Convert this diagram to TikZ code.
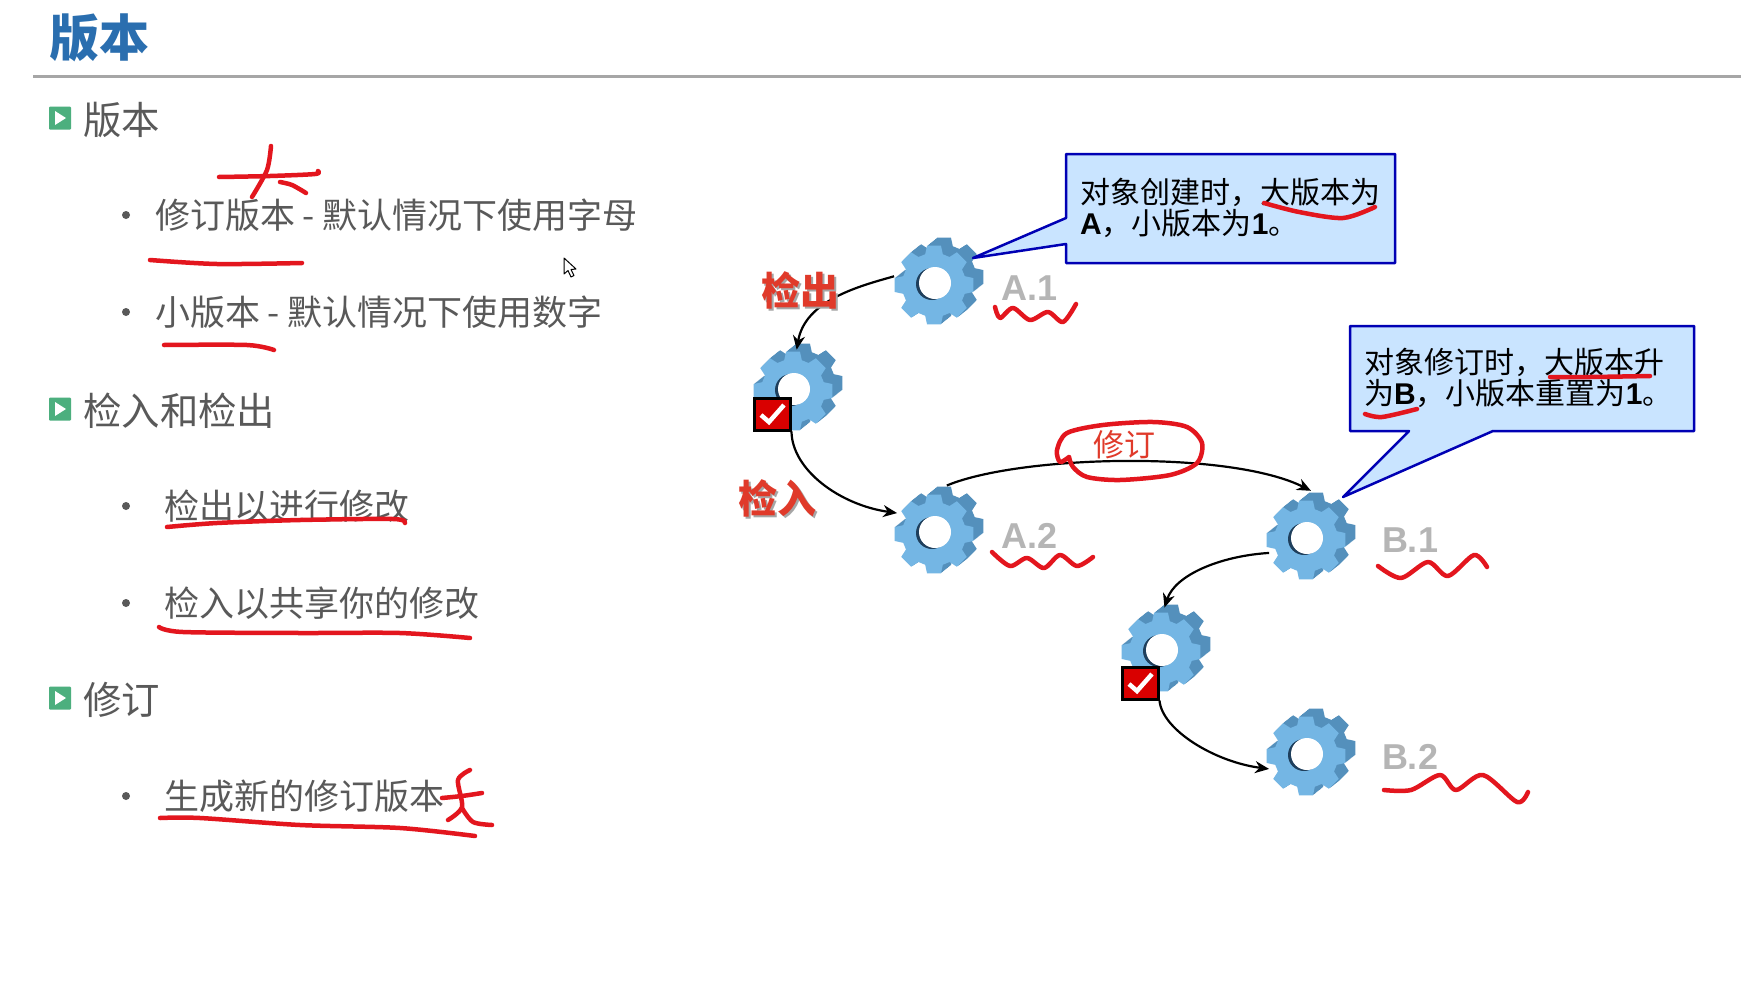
\documentclass[tikz,border=0pt]{standalone}
\usepackage{fontspec}
\setmainfont{Noto Sans CJK SC}
\setsansfont{Liberation Sans}
\definecolor{titleblue}{HTML}{2A6EAF}
\definecolor{textgray}{HTML}{595959}
\definecolor{rulegray}{HTML}{A6A6A6}
\definecolor{bulletgreen}{HTML}{4CAF7E}
\definecolor{gearface}{HTML}{74B6E4}
\definecolor{gearside}{HTML}{5490BC}
\definecolor{gearhole}{HTML}{1F3F5C}
\definecolor{calloutfill}{HTML}{C9E4FF}
\definecolor{calloutline}{HTML}{0000B4}
\definecolor{penred}{HTML}{E3161E}
\definecolor{labelred}{HTML}{E03A2A}
\usetikzlibrary{arrows.meta}
\newcommand{\gearshape}{(-16:32) \foreach \a in {0,45,...,315}{ -- (\a-16:32) -- (\a-10:40) -- (\a+10:40) -- (\a+16:32) } -- cycle}
\newcommand{\dashgap}{\hspace{7.5pt}-\hspace{7.5pt}}
\tikzset{
  heading/.style={anchor=west, text=textgray, font=\fontsize{38.4}{40}\selectfont},
  item/.style={anchor=west, text=textgray, font=\fontsize{35}{38}\selectfont},
  itemdot/.style={circle, fill=textgray, minimum size=8pt, inner sep=0pt},
  greenbox/.style={fill=bulletgreen, minimum width=22pt, minimum height=23pt, inner sep=0pt, rounded corners=1pt},
  gearnode/.style={circle, minimum size=90pt, inner sep=0pt},
  checkbox/.style={fill=red!85!black, draw=black, line width=3pt, minimum width=36pt, minimum height=32pt, inner sep=0pt},
  checkmark/.style={white, line width=4.5pt},
  version/.style={anchor=center, text=black!29, font=\sffamily\bfseries\fontsize{36}{36}\selectfont},
  callout/.style={fill=calloutfill, draw=calloutline, line width=2.5pt, line join=round},
  callouttext/.style={anchor=north west, align=left, inner sep=0pt, text=black, font=\fontsize{30}{31}\selectfont},
  flow/.style={draw=black, line width=2.2pt, -{Stealth[length=14pt,width=12pt]}},
  redmark/.style={draw=penred, line width=4.5pt, line cap=round, line join=round},
  redlabel/.style={anchor=center, text=labelred, font=\bfseries\fontsize{39}{40}\selectfont},
  redshadow/.style={anchor=center, text=black!35, font=\bfseries\fontsize{39}{40}\selectfont}
}
\begin{document}
\begin{tikzpicture}[x=1pt, y=-1pt]
  \useasboundingbox (0,0) rectangle (1741,988);
  \fill[white] (0,0) rectangle (1741,988);

  % title
  \node[anchor=west, inner sep=0pt, text=titleblue, font=\bfseries\fontsize{50}{50}\selectfont] (title) at (49,38) {版本};
  \draw[rulegray, line width=3pt] (33,76.5) -- (1741,76.5);

  % left column
  \foreach \name/\y/\txt in {h1/120/版本, h2/411/检入和检出, h3/700/修订} {
    \node[greenbox] (\name box) at (60,\y-2) {};
    \fill[white] ([shift={(-5,-7)}]\name box.center) -- ([shift={(6,0)}]\name box.center) -- ([shift={(-5,7)}]\name box.center) -- cycle;
    \node[heading, inner sep=0pt] (\name) at (83,\y) {\txt};
  }
  \foreach \name/\x/\y/\txt in {
    i1/155/215/修订版本\dashgap 默认情况下使用字母,
    i2/155/312/小版本\dashgap 默认情况下使用数字,
    i3/164/506/检出以进行修改,
    i4/164/603/检入以共享你的修改,
    i5/164/796/生成新的修订版本} {
    \node[itemdot] (\name dot) at (126,\y) {};
    \node[item, inner sep=0pt] (\name) at (\x,\y) {\txt};
  }

  % mouse pointer
  \draw[black, fill=white, line width=1pt, line join=round] (564,258) -- (564,274) -- (568,270.5) -- (571,277) -- (574,275.5) -- (571,269.5) -- (576,269) -- cycle;

  % gears
  \foreach \name/\x/\y in {a1/939/281, c1/798/387, a2/939/530, b1/1311/536, c2/1166/648, b2/1311/752} {
    \node[gearnode] (\name) at (\x,\y) {};
    \begin{scope}[shift={(\x,\y)}]
      \foreach \s in {10,9,...,1} {
        \fill[gearside, shift={(-5+\s,4-0.8*\s)}] \gearshape;
      }
      \fill[gearface, shift={(-5,4)}] \gearshape;
      \fill[gearhole] (-7,3) circle (16);
      \fill[white] (-4,2) circle (16);
    \end{scope}
  }
  \foreach \name/\x/\y/\txt in {la1/1030/288/A.1, la2/1030/536/A.2, lb1/1410/540/B.1, lb2/1410/757/B.2} {
    \node[version] (\name) at (\x,\y) {\txt};
  }

  % check boxes
  \foreach \name/\x/\y in {ck1/772/414, ck2/1140/683} {
    \node[checkbox] (\name) at (\x,\y) {};
    \draw[checkmark] ([shift={(-11,1)}]\name.center) -- ([shift={(-3,8)}]\name.center) -- ([shift={(12,-9)}]\name.center);
  }

  % connectors
  \draw[flow, shorten >=-8pt] (a1.174) .. controls (860,286) and (805,300) .. (c1.north);
  \draw[flow] (ck1.south east) .. controls (792,470) and (840,505) .. (a2.158);
  \draw[flow] (a2.80) .. controls (1020,455) and (1230,450) .. (b1.north);
  \draw[flow, shorten >=-5pt] (b1.202) .. controls (1220,556) and (1175,575) .. (c2.north);
  \draw[flow] (ck2.south east) .. controls (1162,730) and (1215,762) .. (b2.202);

  % callouts
  \draw[callout] (1066,154) -- (1395,154) -- (1395,263) -- (1066,263) -- (1066,244) -- (973,258) -- (1066,218) -- cycle;
  \node[callouttext] (note1) at (1080,178) {对象创建时，大版本为\\{\sffamily\bfseries A}，小版本为{\sffamily\bfseries 1}。};
  \draw[callout] (1350,326) -- (1694,326) -- (1694,431) -- (1493,431) -- (1343,497) -- (1409,431) -- (1350,431) -- cycle;
  \node[callouttext] (note2) at (1364,348) {对象修订时，大版本升\\为{\sffamily\bfseries B}，小版本重置为{\sffamily\bfseries 1}。};

  % red labels
  \foreach \name/\x/\y/\txt in {checkout/800/290/检出, checkin/777/498/检入} {
    \node[redshadow] (\name s) at (\x+2,\y+2) {\txt};
    \node[redlabel] (\name) at (\x,\y) {\txt};
  }
  \node[anchor=center, text=labelred, font=\fontsize{31}{32}\selectfont] (revise) at (1124,445) {修订};

  % pen marks
  \draw[redmark] plot[smooth] coordinates {(219,177) (270,176) (315,174) (318,171)};
  \draw[redmark] plot[smooth] coordinates {(271,146) (267,170) (252,197)};
  \draw[redmark] plot[smooth] coordinates {(280,182) (292,185) (306,193)};
  \draw[redmark] plot[smooth] coordinates {(150,260) (217,264) (302,263)};
  \draw[redmark] plot[smooth] coordinates {(164,345) (247,345) (274,350)};
  \draw[redmark] plot[smooth] coordinates {(167,527) (217,523) (300,520) (393,519) (405,523)};
  \draw[redmark] plot[smooth] coordinates {(159,627) (183,632) (300,633) (400,633) (470,638)};
  \draw[redmark] plot[smooth] coordinates {(160,818) (200,818) (300,825) (400,828) (475,836)};
  \draw[redmark] plot[smooth] coordinates {(442,798) (462,796) (482,793)};
  \draw[redmark] plot[smooth] coordinates {(470,770) (458,780) (462,807) (448,820)};
  \draw[redmark] plot[smooth] coordinates {(462,808) (473,822) (492,825)};
  \draw[redmark] plot[smooth] coordinates {(995,307) (1000,318) (1013,308) (1030,320) (1048,312) (1063,322) (1076,304)};
  \draw[redmark] plot[smooth] coordinates {(992,552) (1010,566) (1027,558) (1044,568) (1060,555) (1077,566) (1093,557)};
  \draw[redmark] plot[smooth] coordinates {(1378,566) (1401,578) (1428,562) (1448,576) (1474,555) (1487,567)};
  \draw[redmark] plot[smooth] coordinates {(1384,790) (1411,790) (1440,775) (1456,790) (1483,775) (1517,802) (1528,792)};
  \draw[redmark] plot[smooth] coordinates {(1264,203) (1299,212) (1343,218) (1375,207)};
  \draw[redmark] plot[smooth] coordinates {(1550,377) (1590,377) (1650,376)};
  \draw[redmark] plot[smooth] coordinates {(1365,414) (1382,417) (1417,409)};
  \draw[redmark] plot[smooth] coordinates {(1069,457) (1060,462) (1057,450) (1067,433) (1103,425) (1153,422) (1187,427) (1202,443) (1197,463) (1170,475) (1120,480) (1087,477) (1073,467) (1069,457)};
\end{tikzpicture}
\end{document}
